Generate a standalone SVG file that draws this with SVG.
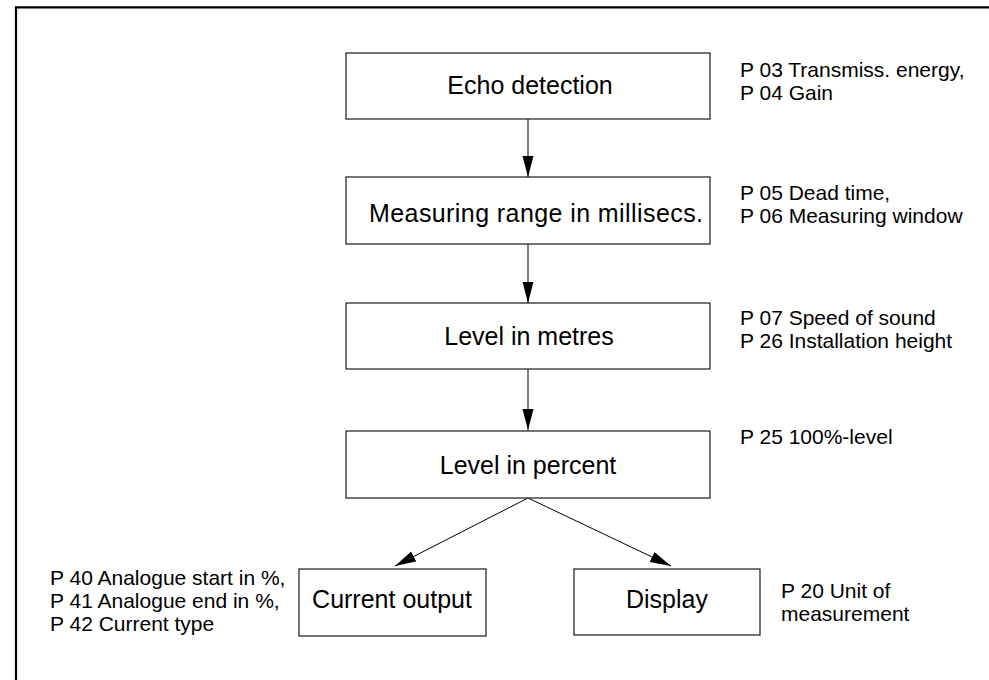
<svg xmlns="http://www.w3.org/2000/svg" width="989" height="680" viewBox="0 0 989 680">
  <defs>
    <style>
      .box { fill: #ffffff; stroke: #1a1a1a; stroke-width: 1.2; }
      .lbl { font-family: "Liberation Sans", Arial, sans-serif; font-size: 25px; fill: #000; }
      .note { font-family: "Liberation Sans", Arial, sans-serif; font-size: 21px; fill: #000; }
      .conn { stroke: #000; stroke-width: 1; fill: none; marker-end: url(#arrow); }
      .frame { stroke: #000; stroke-width: 2.2; fill: none; }
    </style>
    <marker id="arrow" markerUnits="userSpaceOnUse" markerWidth="22" markerHeight="12" refX="21" refY="5.5" orient="auto">
      <path d="M0,0 L21,5.5 L0,11 Z" fill="#000"/>
    </marker>
  </defs>
  <rect x="0" y="0" width="989" height="680" fill="#ffffff"/>
  <path class="frame" d="M16,680 V7.3 H989"/>

  <g id="connectors">
    <line class="conn" x1="528" y1="119" x2="528" y2="177"/>
    <line class="conn" x1="528" y1="244" x2="528" y2="303"/>
    <line class="conn" x1="528" y1="369" x2="528" y2="430"/>
    <line class="conn" x1="528" y1="498" x2="395" y2="566"/>
    <line class="conn" x1="528" y1="498" x2="671" y2="566"/>
  </g>

  <g id="echo-detection">
    <rect class="box" x="346" y="53" width="364" height="66"/>
    <text class="lbl" x="530" y="94" text-anchor="middle">Echo detection</text>
    <text class="note" x="740" y="77">P 03 Transmiss. energy,</text>
    <text class="note" x="740" y="100">P 04 Gain</text>
  </g>

  <g id="measuring-range">
    <rect class="box" x="346" y="177" width="364" height="67"/>
    <text class="lbl" x="369" y="222" textLength="334">Measuring range in millisecs.</text>
    <text class="note" x="740" y="200">P 05 Dead time,</text>
    <text class="note" x="740" y="223">P 06 Measuring window</text>
  </g>

  <g id="level-metres">
    <rect class="box" x="346" y="303" width="364" height="66"/>
    <text class="lbl" x="529" y="345" text-anchor="middle">Level in metres</text>
    <text class="note" x="740" y="325">P 07 Speed of sound</text>
    <text class="note" x="740" y="348">P 26 Installation height</text>
  </g>

  <g id="level-percent">
    <rect class="box" x="346" y="431" width="364" height="67"/>
    <text class="lbl" x="528" y="474" text-anchor="middle">Level in percent</text>
    <text class="note" x="740" y="444">P 25 100%-level</text>
  </g>

  <g id="current-output">
    <rect class="box" x="299" y="569" width="187" height="67"/>
    <text class="lbl" x="392" y="608" text-anchor="middle">Current output</text>
    <text class="note" x="50" y="585">P 40 Analogue start in %,</text>
    <text class="note" x="50" y="608">P 41 Analogue end in %,</text>
    <text class="note" x="50" y="631">P 42 Current type</text>
  </g>

  <g id="display">
    <rect class="box" x="574" y="569" width="186" height="66"/>
    <text class="lbl" x="667" y="608" text-anchor="middle">Display</text>
    <text class="note" x="781" y="598">P 20 Unit of</text>
    <text class="note" x="781" y="621">measurement</text>
  </g>
</svg>
